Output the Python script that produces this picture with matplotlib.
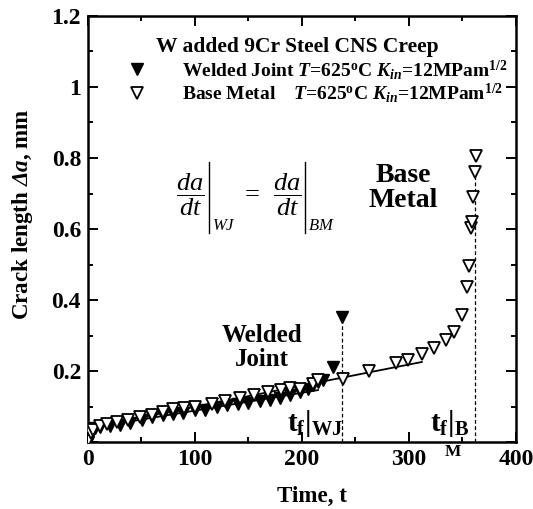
import matplotlib
matplotlib.use("Agg")
import matplotlib.pyplot as plt
from matplotlib.ticker import MultipleLocator, FixedLocator, FixedFormatter

plt.rcParams["font.family"] = ["Liberation Serif", "DejaVu Serif"]
plt.rcParams["font.weight"] = "bold"
plt.rcParams["mathtext.fontset"] = "custom"
plt.rcParams["mathtext.rm"] = "Liberation Serif:normal"
plt.rcParams["mathtext.it"] = "Liberation Serif:italic:normal"
plt.rcParams["mathtext.bf"] = "Liberation Serif:italic:bold"
plt.rcParams["mathtext.sf"] = "Liberation Serif:bold"

# welded joint (filled triangles), time vs crack length
t_wj = [0.3, 1.9, 3.5, 6.5, 11.2, 20.6, 29.9, 39.3, 50.2, 59.5, 70.4, 79.7, 89.1, 100,
        109.3, 120.3, 129.6, 140.5, 149.8, 160.7, 170.1, 179.4, 188.8, 198.1, 205.9,
        210.6, 215.2, 219.9, 229.3, 237.7]
a_wj = [0.001, 0.02, 0.03, 0.039, 0.043, 0.045, 0.05, 0.055, 0.062, 0.071, 0.076, 0.081,
        0.083, 0.09, 0.092, 0.098, 0.104, 0.107, 0.111, 0.115, 0.118, 0.125, 0.132, 0.142,
        0.151, 0.16, 0.17, 0.176, 0.213, 0.353]

# base metal (open triangles)
t_bm = [0.5, 2.5, 5, 11, 18, 27, 37, 48.6, 60, 70, 79.7, 90, 100, 115.6, 128, 142, 155,
        168.5, 180, 188.8, 198, 210.6, 215, 238.6, 263, 287.9, 299.4, 312, 323.4, 334.6,
        342, 349.2, 354.5, 356, 357.6, 358.6, 360, 361.7, 362.6]
a_bm = [0.005, 0.025, 0.035, 0.046, 0.052, 0.058, 0.064, 0.072, 0.078, 0.085, 0.093, 0.097,
        0.1, 0.107, 0.115, 0.124, 0.133, 0.142, 0.147, 0.152, 0.149, 0.163, 0.175, 0.177,
        0.201, 0.223, 0.231, 0.248, 0.264, 0.288, 0.31, 0.357, 0.437, 0.496, 0.602, 0.62,
        0.689, 0.761, 0.805]

# fitted steady-state lines
fit_bm_t = [2, 10, 312]
fit_bm_a = [0.022, 0.047, 0.226]
fit_wj_t = [2, 10, 215]
fit_wj_a = [0.02, 0.044, 0.147]

# rupture times (dashed lines) and their heights
tf_wj, tf_wj_top = 237.7, 0.353
tf_bm, tf_bm_top = 361.7, 0.761

xticks = [0, 100, 200, 300, 400]
yticks = [0, 0.2, 0.4, 0.6, 0.8, 1.0, 1.2]
ylabels = ["", "0.2", "0.4", "0.6", "0.8", "1", "1.2"]

fig = plt.figure(figsize=(5.33, 5.09), dpi=100)
ax = fig.add_axes([0.165, 0.131, 0.803, 0.838])

ax.plot(fit_bm_t, fit_bm_a, color="black", lw=1.3, zorder=2)
ax.plot(fit_wj_t, fit_wj_a, color="black", lw=1.3, zorder=2)
ax.vlines([tf_wj], 0, tf_wj_top, colors="black", linestyles=(0, (3, 2)), lw=0.9)
ax.vlines([tf_bm], 0, tf_bm_top, colors="black", linestyles=(0, (3, 2)), lw=0.9)

h_wj, = ax.plot(t_wj, a_wj, "v", ms=8, mfc="black", mec="black", ls="none", zorder=3,
                label=r"Welded Joint $\mathbf{T}$=625$^{\mathsf{o}}$C $\mathbf{K}_{\mathbf{in}}$=12MPam$^{\mathsf{1/2}}$")
h_bm, = ax.plot(t_bm, a_bm, "v", ms=8, mfc="white", mec="black", mew=1.3, ls="none", zorder=4,
                label=r"Base Metal $\quad$$\mathbf{T}$=625$^{\mathsf{o}}$C $\mathbf{K}_{\mathbf{in}}$=12MPam$^{\mathsf{1/2}}$")

ax.legend(handles=[h_wj, h_bm], loc="upper left", bbox_to_anchor=(0.0735, 0.92),
          frameon=False, prop={"size": 14, "weight": "bold"}, handlelength=1.0,
          handletextpad=1.8, labelspacing=0.0, borderaxespad=0)

ax.set_xlim(0, 400)
ax.set_ylim(0, 1.2)
ax.xaxis.set_major_locator(FixedLocator(xticks))
ax.xaxis.set_minor_locator(MultipleLocator(50))
ax.yaxis.set_major_locator(FixedLocator(yticks))
ax.yaxis.set_major_formatter(FixedFormatter(ylabels))
ax.yaxis.set_minor_locator(MultipleLocator(0.1))
ax.tick_params(which="both", direction="in", top=True, right=True, width=1.4)
ax.tick_params(which="major", length=7.5, labelsize=17, pad=5)
ax.tick_params(which="minor", length=3.5)
for s in ax.spines.values():
    s.set_linewidth(1.8)

ax.text(0.523, -0.128, "Time, t", transform=ax.transAxes, ha="center", va="center",
        fontsize=16.6, fontweight="bold")
ax.text(-0.154, 0.535, r"Crack length $\mathbf{\Delta a}$, mm", transform=ax.transAxes,
        ha="center", va="center", rotation=90, fontsize=16.6, fontweight="bold")

ax.text(0.49, 0.927, "W added 9Cr Steel CNS Creep", transform=ax.transAxes,
        ha="center", va="center", fontsize=15.5, fontweight="bold")

# da/dt|WJ = da/dt|BM, built from pieces so the bars can be tall
for fx, bx, sub in [(0.238, 0.284, "WJ"), (0.465, 0.507, "BM")]:
    ax.text(fx, 0.580, r"$\dfrac{da}{dt}$", transform=ax.transAxes, ha="center",
            va="center", fontsize=19)
    ax.plot([bx, bx], [0.491, 0.658], transform=ax.transAxes, color="black", lw=1.0)
    ax.text(bx + 0.006, 0.507, r"$%s$" % sub, transform=ax.transAxes, ha="left",
            va="center", fontsize=12)
ax.text(0.384, 0.580, "=", transform=ax.transAxes, ha="center", va="center",
        fontsize=19, fontweight="normal")

ax.text(0.736, 0.596, "Base\nMetal", transform=ax.transAxes, ha="center", va="center",
        fontsize=20, fontweight="bold", linespacing=1.0)
ax.text(0.407, 0.222, "Welded\nJoint", transform=ax.transAxes, ha="center", va="center",
        fontsize=18, fontweight="bold", linespacing=1.05)
ax.text(0.465, 0.045, r"$\mathsf{t_f|_{WJ}}$", transform=ax.transAxes, ha="left",
        va="center", fontsize=21)
ax.text(0.80, 0.045, r"$\mathsf{t_f|_B}$", transform=ax.transAxes, ha="left",
        va="center", fontsize=21)
ax.text(0.853, -0.023, "M", transform=ax.transAxes, ha="center", va="center",
        fontsize=12.5, fontweight="bold")

fig.savefig("out.png", dpi=100)
